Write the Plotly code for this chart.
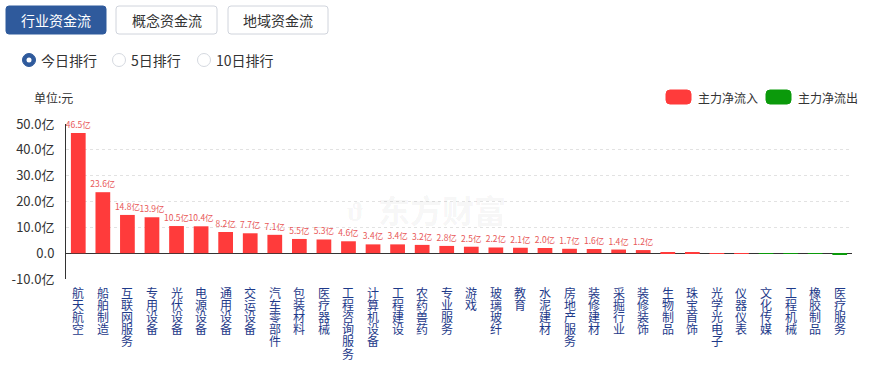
import plotly.graph_objects as go

categories = ["航天航空", "船舶制造", "互联网服务", "专用设备", "光伏设备", "电源设备", "通用设备", "交运设备",
              "汽车零部件", "包装材料", "医疗器械", "工程咨询服务", "计算机设备", "工程建设", "农药兽药", "专业服务",
              "游戏", "玻璃玻纤", "教育", "水泥建材", "房地产服务", "装修建材", "采掘行业", "装修装饰",
              "生物制品", "珠宝首饰", "光学光电子", "仪器仪表", "文化传媒", "工程机械", "橡胶制品", "医疗服务"]
values = [46.5, 23.6, 14.8, 13.9, 10.5, 10.4, 8.2, 7.7,
          7.1, 5.5, 5.3, 4.6, 3.4, 3.4, 3.2, 2.8,
          2.5, 2.2, 2.1, 2.0, 1.7, 1.6, 1.4, 1.2,
          0.4, 0.3, 0.05, 0.02, -0.03, -0.08, -0.3, -0.5]
y_ticks = [-10, 0, 10, 20, 30, 40, 50]
y_tick_labels = ["-10.0亿", "0.0", "10.0亿", "20.0亿", "30.0亿", "40.0亿", "50.0亿"]
tabs = ["行业资金流", "概念资金流", "地域资金流"]
radios = ["今日排行", "5日排行", "10日排行"]
legend_names = ["主力净流入", "主力净流出"]

RED = "#ff3b3b"
GREEN = "#0b9a0b"
FONT = "Noto Sans CJK SC"

W_PX, H_PX = 872, 365
L, R, T, B = 66, 852, 124, 279


def px(x):
    return (x - L) / (R - L)


def py(y):
    return (B - y) / (B - T)


def rounded_rect(x0, y0, x1, y1, r):
    """SVG path in paper coords for a pixel-space rounded rectangle."""
    pts = [
        f"M {px(x0 + r)},{py(y0)}",
        f"L {px(x1 - r)},{py(y0)}",
        f"Q {px(x1)},{py(y0)} {px(x1)},{py(y0 + r)}",
        f"L {px(x1)},{py(y1 - r)}",
        f"Q {px(x1)},{py(y1)} {px(x1 - r)},{py(y1)}",
        f"L {px(x0 + r)},{py(y1)}",
        f"Q {px(x0)},{py(y1)} {px(x0)},{py(y1 - r)}",
        f"L {px(x0)},{py(y0 + r)}",
        f"Q {px(x0)},{py(y0)} {px(x0 + r)},{py(y0)} Z",
    ]
    return " ".join(pts)


bar_colors = [RED if v >= 0 else GREEN for v in values]
bar_text = [f"{v:.1f}亿" if v >= 1 else "" for v in values]

fig = go.Figure()
fig.add_trace(go.Bar(
    x=categories, y=values, marker_color=bar_colors, marker_line_width=0,
    width=0.6, text=bar_text, textposition="outside", constraintext="none",
    textfont=dict(size=8.5, color="#e85858", family=FONT), cliponaxis=False,
    showlegend=False, hoverinfo="x+y",
))

shapes = []
annotations = []

# Tabs
tab_x = [(6, 106), (116, 217), (228, 328)]
for i, (name, (x0, x1)) in enumerate(zip(tabs, tab_x)):
    sel = i == 0
    shapes.append(dict(type="path", xref="paper", yref="paper",
                       path=rounded_rect(x0, 6, x1, 34, 3),
                       fillcolor="#2f5a9c" if sel else "white",
                       line=dict(color="#2f5a9c" if sel else "#d0d4dc", width=1)))
    annotations.append(dict(text=name, xref="paper", yref="paper", x=px((x0 + x1) / 2), y=py(20),
                            showarrow=False, font=dict(size=14, color="white" if sel else "#333", family=FONT),
                            xanchor="center", yanchor="middle"))

# Radios
radio_cx = [29, 119, 204]
for i, (name, cx) in enumerate(zip(radios, radio_cx)):
    sel = i == 0
    r = 6.5
    shapes.append(dict(type="circle", xref="paper", yref="paper",
                       x0=px(cx - r), x1=px(cx + r), y0=py(60 + r), y1=py(60 - r),
                       fillcolor="#2f5a9c" if sel else "white",
                       line=dict(color="#2f5a9c" if sel else "#d5d9e0", width=1)))
    if sel:
        r2 = 2.5
        shapes.append(dict(type="circle", xref="paper", yref="paper",
                           x0=px(cx - r2), x1=px(cx + r2), y0=py(60 + r2), y1=py(60 - r2),
                           fillcolor="white", line=dict(color="white", width=0)))
    annotations.append(dict(text=name, xref="paper", yref="paper", x=px(cx + 10), y=py(60),
                            showarrow=False, font=dict(size=14, color="#333", family=FONT),
                            xanchor="left", yanchor="middle"))

# Unit label
annotations.append(dict(text="单位:元", xref="paper", yref="paper", x=px(32), y=py(97),
                        showarrow=False, font=dict(size=12, color="#333", family=FONT),
                        xanchor="left", yanchor="middle"))

# Custom legend
leg = [(666, 691, 696, RED), (766, 791, 796, GREEN)]
for name, (x0, x1, tx, col) in zip(legend_names, leg):
    shapes.append(dict(type="path", xref="paper", yref="paper",
                       path=rounded_rect(x0, 90, x1, 104, 4),
                       fillcolor=col, line=dict(color=col, width=1)))
    annotations.append(dict(text=name, xref="paper", yref="paper", x=px(tx), y=py(97),
                            showarrow=False, font=dict(size=12, color="#333", family=FONT),
                            xanchor="left", yanchor="middle"))

# Watermark
annotations.append(dict(text="<b>东方财富</b>", xref="paper", yref="paper", x=px(442), y=py(209),
                        showarrow=False, font=dict(size=32, color="rgba(0,0,0,0.055)", family=FONT),
                        xanchor="center", yanchor="middle"))
annotations.append(dict(text="<b>ϑ</b>", xref="paper", yref="paper", x=px(355), y=py(209),
                        showarrow=False, font=dict(size=28, color="rgba(0,0,0,0.055)", family=FONT),
                        xanchor="center", yanchor="middle"))

# Vertical category labels (one character per line)
for cat in categories:
    for k, ch in enumerate(cat):
        annotations.append(dict(text=ch, xref="x", yref="paper", x=cat, y=0,
                                yshift=-13 - k * 12.2, showarrow=False,
                                font=dict(size=12, color="#1e3a8a", family=FONT),
                                xanchor="center", yanchor="middle"))

fig.update_layout(
    width=W_PX, height=H_PX,
    margin=dict(l=L, r=W_PX - R, t=T, b=H_PX - B, pad=0),
    paper_bgcolor="white", plot_bgcolor="white",
    font=dict(family=FONT, color="#333"),
    bargap=0.4,
    shapes=shapes, annotations=annotations,
    xaxis=dict(showticklabels=False, showgrid=False, showline=False, zeroline=False,
               ticks="", range=[-0.5, len(categories) - 0.5]),
    yaxis=dict(range=[-10, 50], tickvals=y_ticks, ticktext=y_tick_labels,
               showgrid=True, gridcolor="#e2e2e2", griddash="dot", gridwidth=1,
               zeroline=True, zerolinecolor="#333", zerolinewidth=1,
               showline=True, linecolor="#333", linewidth=1, ticks="",
               ticklabelstandoff=8,
               tickfont=dict(size=13, color="#333", family=FONT)),
)

fig.write_html("out.html", config={"displayModeBar": False},
               post_script="document.body.style.margin='0';document.body.style.padding='0';")
